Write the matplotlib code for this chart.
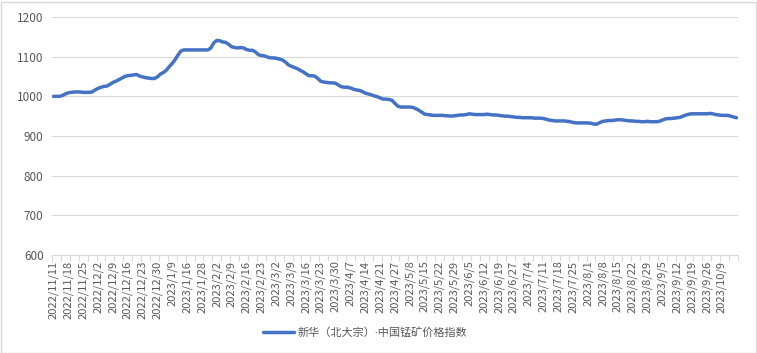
import matplotlib.pyplot as plt
from matplotlib.patches import Rectangle

# tick labels, one for every 5th trading day
tick_labels = [
    '2022/11/11', '2022/11/18', '2022/11/25', '2022/12/2', '2022/12/9', '2022/12/16',
    '2022/12/23', '2022/12/30', '2023/1/9', '2023/1/16', '2023/1/28', '2023/2/2',
    '2023/2/9', '2023/2/16', '2023/2/23', '2023/3/2', '2023/3/9', '2023/3/16',
    '2023/3/23', '2023/3/30', '2023/4/7', '2023/4/14', '2023/4/21', '2023/4/27',
    '2023/5/8', '2023/5/15', '2023/5/22', '2023/5/29', '2023/6/5', '2023/6/12',
    '2023/6/19', '2023/6/27', '2023/7/4', '2023/7/11', '2023/7/18', '2023/7/25',
    '2023/8/1', '2023/8/8', '2023/8/15', '2023/8/22', '2023/8/29', '2023/9/5',
    '2023/9/12', '2023/9/19', '2023/9/26', '2023/10/9',
]

# daily index values (trading days)
index_values = [
    1000, 1000, 1000, 1002, 1006, 1009, 1010, 1011, 1011, 1011,
    1010, 1010, 1010, 1011, 1016, 1020, 1023, 1025, 1026, 1030,
    1035, 1038, 1042, 1046, 1050, 1052, 1053, 1054, 1055, 1051,
    1049, 1047, 1046, 1045, 1045, 1049, 1056, 1060, 1066, 1075,
    1083, 1093, 1105, 1115, 1117, 1117, 1117, 1117, 1117, 1117,
    1117, 1117, 1117, 1122, 1135, 1141, 1140, 1137, 1136, 1131,
    1125, 1123, 1122, 1123, 1122, 1118, 1116, 1116, 1112, 1105,
    1103, 1102, 1099, 1097, 1097, 1096, 1094, 1092, 1087, 1080,
    1076, 1073, 1070, 1066, 1062, 1057, 1052, 1052, 1051, 1045,
    1038, 1036, 1035, 1034, 1034, 1033, 1028, 1024, 1023, 1023,
    1021, 1018, 1016, 1015, 1012, 1008, 1006, 1004, 1001, 999,
    996, 993, 993, 992, 990, 982, 975, 973, 973, 973,
    973, 972, 969, 965, 960, 955, 954, 953, 952, 952,
    952, 952, 951, 951, 950, 951, 952, 953, 953, 954,
    956, 955, 954, 954, 954, 954, 955, 954, 953, 953,
    952, 951, 950, 950, 949, 948, 947, 947, 946, 946,
    946, 946, 945, 945, 945, 944, 942, 940, 939, 938,
    938, 938, 938, 937, 936, 934, 933, 933, 933, 933,
    933, 932, 930, 930, 934, 937, 938, 939, 939, 940,
    941, 941, 940, 939, 938, 938, 937, 937, 936, 936,
    937, 936, 936, 936, 937, 940, 943, 944, 944, 945,
    946, 947, 950, 953, 955, 956, 956, 956, 956, 956,
    956, 957, 956, 954, 953, 952, 952, 952, 950, 948,
    946,
]

series_name = '新华（北大宗）·中国锰矿价格指数'

plt.rcParams['font.family'] = ['Noto Sans CJK SC', 'DejaVu Sans']

fig = plt.figure(figsize=(7.57, 3.53), dpi=100)
ax = fig.add_axes([52 / 757, 98 / 353, 686 / 757, 238 / 353])

n = len(index_values)
x = list(range(n))
ax.plot(x, index_values, color='#4472C4', linewidth=2.5, solid_capstyle='round',
        label=series_name)

ax.set_xlim(-0.5, n - 0.5)
ax.set_ylim(600, 1200)
ax.set_yticks(range(600, 1201, 100))
ax.yaxis.grid(True, color='#D9D9D9', linewidth=0.8)
ax.set_axisbelow(True)

ax.set_xticks([5 * k for k in range(len(tick_labels))])
ax.set_xticklabels(tick_labels, rotation=90)
ax.set_xticks([k - 0.5 for k in range(0, n + 1, 3)], minor=True)
ax.tick_params(axis='x', which='major', length=0, pad=4, labelsize=8, labelcolor='#595959')
ax.tick_params(axis='x', which='minor', length=4, color='#D9D9D9', width=0.8)
ax.tick_params(axis='y', length=0, labelsize=8.5, labelcolor='#595959', pad=6)

for side in ['top', 'right', 'left']:
    ax.spines[side].set_visible(False)
ax.spines['bottom'].set_color('#D9D9D9')
ax.spines['bottom'].set_linewidth(0.8)

fig.legend(loc='center', bbox_to_anchor=(365 / 757, 20 / 353), frameon=False,
           prop={'family': ['Noto Sans', 'Noto Sans CJK SC'], 'size': 8},
           labelcolor='#595959', handlelength=2.8, handletextpad=0.3)

# chart border
fig.patches.append(Rectangle((0.5 / 757, 0.5 / 353), 755 / 757, 351 / 353,
                             transform=fig.transFigure, fill=False,
                             edgecolor='#D9D9D9', linewidth=1))

fig.savefig('out.png', dpi=100)
plt.close(fig)
